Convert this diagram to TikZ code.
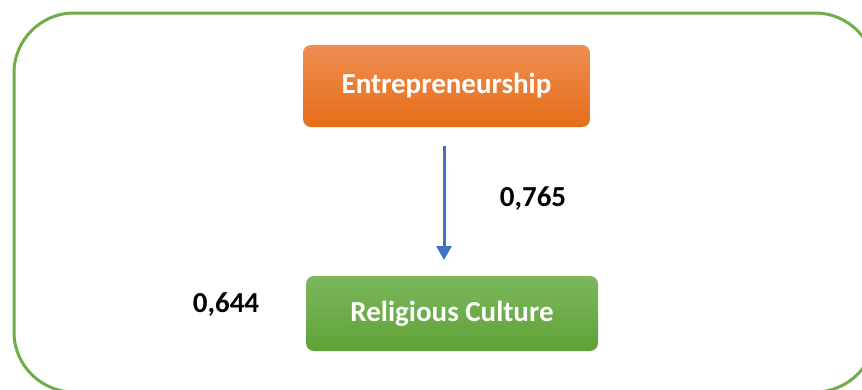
\documentclass[tikz,border=0pt]{standalone}
\usepackage{fontspec}
\setmainfont{Carlito}
\usetikzlibrary{arrows.meta}
\definecolor{framegreen}{RGB}{112,173,71}
\definecolor{arrowblue}{RGB}{68,114,196}
\definecolor{orTop}{RGB}{240,141,82}
\definecolor{orBot}{RGB}{229,110,24}
\definecolor{grTop}{RGB}{124,183,94}
\definecolor{grBot}{RGB}{95,162,54}
\tikzset{
  boxnode/.style={rounded corners=8pt, text=white, font=\bfseries\fontsize{29}{34}\selectfont, align=center, inner sep=0pt},
  valnode/.style={font=\bfseries\fontsize{29}{34}\selectfont, text=black, inner sep=0pt}
}
\begin{document}
\begin{tikzpicture}[x=1pt,y=-1pt]
\useasboundingbox (0,0) rectangle (862,389);
\clip (0,0) rectangle (862,389);
\draw[framegreen, line width=3pt, rounded corners=60pt] (14,13) rectangle (875,392);
\node[boxnode, top color=orTop, bottom color=orBot, minimum width=287pt, minimum height=82pt] (ent) at (446.5,86) {Entrepreneurship};
\node[boxnode, top color=grTop, bottom color=grBot, minimum width=292pt, minimum height=75pt] (rel) at (452,313.5) {Religious Culture};
\coordinate (astart) at (444,146);
\coordinate (aend) at (444,260);
\draw[arrowblue, line width=3pt, -{Triangle[width=15pt,length=14pt]}] (astart) -- (aend);
\node[valnode] (v1) at (533,199) {0,765};
\node[valnode] (v2) at (226,305) {0,644};
\end{tikzpicture}
\end{document}
